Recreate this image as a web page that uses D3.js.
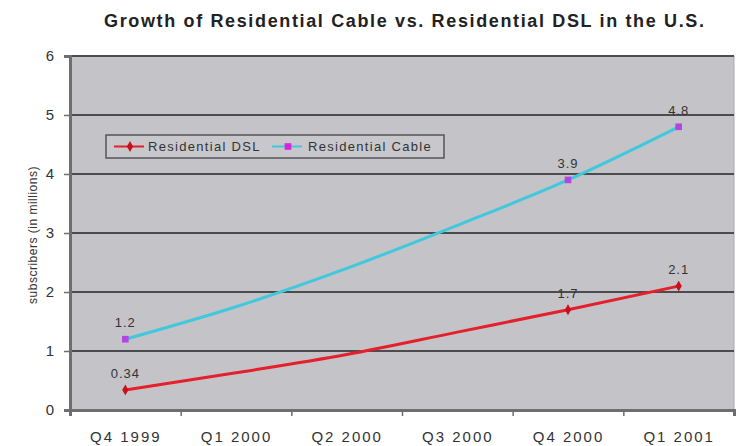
<!DOCTYPE html>
<html>
<head>
<meta charset="utf-8">
<script src="https://cdn.jsdelivr.net/npm/d3@7"></script>
<style>
  body { margin: 0; background: #fff; }
  svg { display: block; }
  text { font-family: "Liberation Sans", Arial, sans-serif; }
</style>
</head>
<body>
<svg id="chart" width="743" height="446"></svg>
<script>
// Quarterly subscriber counts, in millions
const quarters = ["Q4 1999", "Q1 2000", "Q2 2000", "Q3 2000", "Q4 2000", "Q1 2001"];
const dslValues = [0.34, 0.63, 0.94, 1.32, 1.7, 2.1];
const cableValues = [1.2, 1.75, 2.4, 3.13, 3.9, 4.8];
// quarters that carry a marker and a value label
const labelledQuarters = ["Q4 1999", "Q4 2000", "Q1 2001"];
const yTickValues = [0, 1, 2, 3, 4, 5, 6];
const seriesNames = ["Residential DSL", "Residential Cable"];

const svg = d3.select("#chart");
const plot = { left: 70, right: 734, top: 56, bottom: 410 };

const x = d3.scalePoint().domain(quarters).range([plot.left, plot.right]).padding(0.5);
const xEdges = d3.scaleLinear().domain([0, quarters.length]).range([plot.left, plot.right]);
const y = d3.scaleLinear().domain([0, 6]).range([plot.bottom, plot.top]);

// title
svg.append("text")
  .attr("x", 404).attr("y", 27)
  .attr("text-anchor", "middle")
  .attr("font-size", 18).attr("font-weight", "bold")
  .attr("fill", "#222")
  .attr("textLength", 600).attr("lengthAdjust", "spacing")
  .text("Growth of Residential Cable vs. Residential DSL in the U.S.");

// plot area
svg.append("rect")
  .attr("x", plot.left).attr("y", plot.top)
  .attr("width", plot.right - plot.left).attr("height", plot.bottom - plot.top)
  .attr("fill", "#c4c3c7")
  .attr("stroke", "#a9a9ad").attr("stroke-width", 1);

// horizontal gridlines
svg.append("g")
  .selectAll("line")
  .data(yTickValues.filter(v => v > 0))
  .join("line")
  .attr("x1", plot.left).attr("x2", plot.right)
  .attr("y1", d => y(d)).attr("y2", d => y(d))
  .attr("stroke", "#4c4c4e").attr("stroke-width", 2);

// y axis
const yAxis = svg.append("g")
  .attr("transform", `translate(${plot.left},0)`)
  .call(d3.axisLeft(y).tickValues(yTickValues).tickSize(6).tickPadding(10).tickFormat(d3.format("d")));
yAxis.select(".domain").attr("stroke", "#6e6e70").attr("stroke-width", 3);
yAxis.selectAll(".tick line").attr("stroke", "#6e6e70").attr("stroke-width", 1.5);
yAxis.selectAll(".tick text").attr("font-size", 15).attr("fill", "#333")
  .style("font-family", "'Liberation Sans', Arial, sans-serif");

// x axis: tick marks on category boundaries, labels at category centres
const xTicks = svg.append("g")
  .attr("transform", `translate(0,${plot.bottom})`)
  .call(d3.axisBottom(xEdges).ticks(quarters.length).tickSize(6).tickFormat(""));
xTicks.select(".domain").attr("stroke", "#6e6e70").attr("stroke-width", 3);
xTicks.selectAll(".tick line").attr("stroke", "#6e6e70").attr("stroke-width", 1.5);

const xLabels = svg.append("g")
  .attr("transform", `translate(0,${plot.bottom})`)
  .call(d3.axisBottom(x).tickSize(0).tickPadding(21));
xLabels.select(".domain").remove();
xLabels.selectAll(".tick text").attr("font-size", 15).attr("fill", "#333")
  .attr("letter-spacing", 2)
  .style("font-family", "'Liberation Sans', Arial, sans-serif");

// y axis title
svg.append("text")
  .attr("transform", "translate(37,235) rotate(-90)")
  .attr("text-anchor", "middle")
  .attr("font-size", 12).attr("fill", "#333")
  .attr("letter-spacing", 0.5)
  .text("subscribers (in millions)");

// series
const series = [
  { name: seriesNames[0], values: dslValues, line: "#e3202c", marker: "#c8101c", shape: d3.symbolDiamond, size: 34 },
  { name: seriesNames[1], values: cableValues, line: "#40c8dc", marker: "#b444e4", shape: d3.symbolSquare, size: 44 }
];

const line = d3.line()
  .x((d, i) => x(quarters[i]))
  .y(d => y(d))
  .curve(d3.curveMonotoneX);

series.forEach(s => {
  svg.append("path")
    .datum(s.values)
    .attr("fill", "none")
    .attr("stroke", s.line)
    .attr("stroke-width", 3)
    .attr("stroke-linejoin", "round")
    .attr("d", line);

  const pts = s.values
    .map((v, i) => ({ q: quarters[i], v }))
    .filter(p => labelledQuarters.includes(p.q));

  svg.append("g").selectAll("path")
    .data(pts)
    .join("path")
    .attr("transform", p => `translate(${x(p.q)},${y(p.v)})`)
    .attr("d", d3.symbol().type(s.shape).size(s.size))
    .attr("fill", s.marker);

  svg.append("g").selectAll("text")
    .data(pts)
    .join("text")
    .attr("x", p => x(p.q))
    .attr("y", p => y(p.v) - 12)
    .attr("text-anchor", "middle")
    .attr("font-size", 13).attr("fill", "#333")
    .attr("letter-spacing", 1)
    .text(p => String(p.v));
});

// legend
const legend = svg.append("g").attr("transform", "translate(106,135)");
legend.append("rect")
  .attr("width", 338).attr("height", 23)
  .attr("fill", "#c8c7cb")
  .attr("stroke", "#555").attr("stroke-width", 1.5);

const legendItems = [
  { s: series[0], x0: 8, tx: 42 },
  { s: series[1], x0: 166, tx: 202 }
];
legendItems.forEach(it => {
  legend.append("line")
    .attr("x1", it.x0).attr("x2", it.x0 + 30)
    .attr("y1", 11.5).attr("y2", 11.5)
    .attr("stroke", it.s.line).attr("stroke-width", 2);
  legend.append("path")
    .attr("transform", `translate(${it.x0 + 16},11.5)`)
    .attr("d", d3.symbol().type(it.s.shape).size(it.s.size))
    .attr("fill", it.s === series[1] ? "#e020e0" : it.s.marker);
  legend.append("text")
    .attr("x", it.tx).attr("y", 16)
    .attr("font-size", 13).attr("fill", "#333")
    .attr("letter-spacing", 1.3)
    .text(it.s.name);
});
</script>
</body>
</html>
